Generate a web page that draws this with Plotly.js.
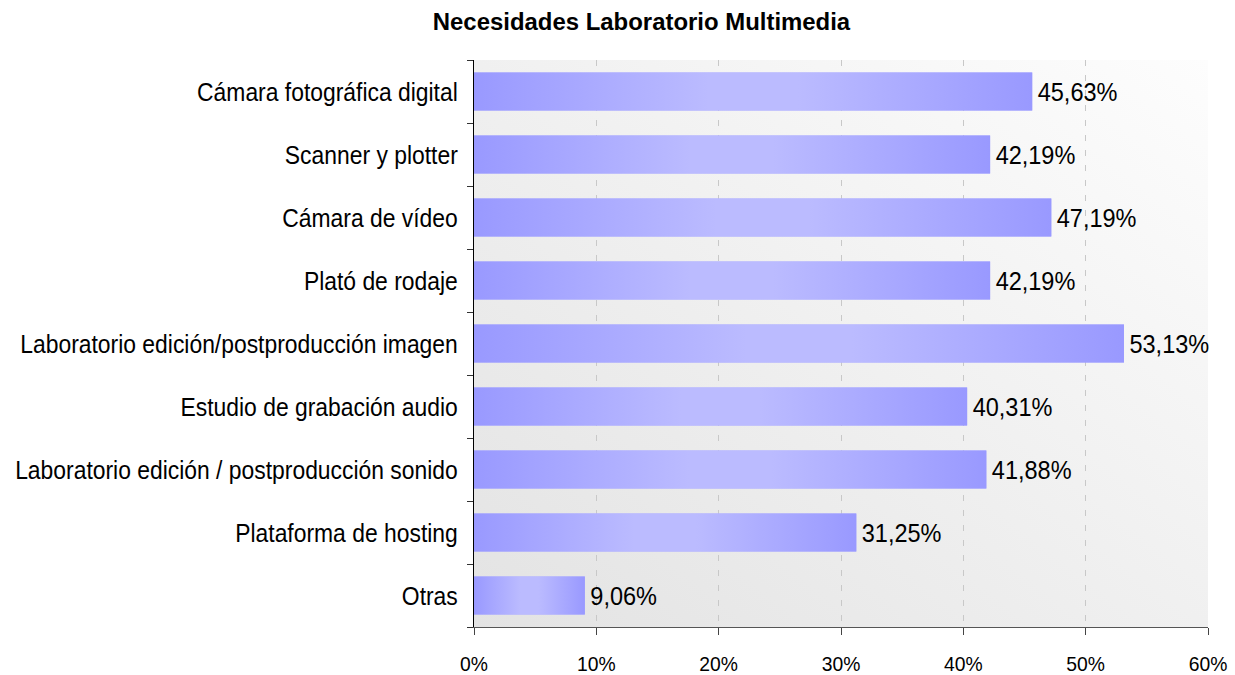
<!DOCTYPE html>
<html>
<head>
<meta charset="utf-8">
<script src="https://cdn.plot.ly/plotly-3.0.1.min.js"></script>
<style>html,body{margin:0;padding:0;background:#fff;}#chart{width:1235px;height:675px;}</style>
</head>
<body>
<div id="chart"></div>
<script>
const categories = [
  "Cámara fotográfica digital",
  "Scanner y plotter",
  "Cámara de vídeo",
  "Plató de rodaje",
  "Laboratorio edición/postproducción imagen",
  "Estudio de grabación audio",
  "Laboratorio edición / postproducción sonido",
  "Plataforma de hosting",
  "Otras"
];
const values = [45.63, 42.19, 47.19, 42.19, 53.13, 40.31, 41.88, 31.25, 9.06];
const xTickValues = [0, 10, 20, 30, 40, 50, 60];
const xTickLabels = ["0%", "10%", "20%", "30%", "40%", "50%", "60%"];

const FONT = "Liberation Sans, Arial, sans-serif";
const BAR_HALF = 0.3;
const positions = categories.map((c, i) => i);
const boundaries = categories.map((c, i) => i - 0.5).concat([categories.length - 0.5]);

const barTrace = {
  type: 'bar',
  orientation: 'h',
  x: values,
  y: positions,
  width: BAR_HALF * 2,
  marker: {color: '#aaaaff', line: {width: 0}},
  texttemplate: '%{x:.2f}%',
  textposition: 'outside',
  cliponaxis: false,
  textfont: {family: FONT, size: 25, color: '#000'},
  hoverinfo: 'skip',
  showlegend: false
};

const gradientTraces = values.map((v, i) => ({
  type: 'scatter',
  mode: 'lines',
  x: [0, v, v, 0, 0],
  y: [i - BAR_HALF, i - BAR_HALF, i + BAR_HALF, i + BAR_HALF, i - BAR_HALF],
  fill: 'toself',
  line: {width: 0, color: 'rgba(0,0,0,0)'},
  fillcolor: '#aaaaff',
  fillgradient: {
    type: 'horizontal',
    start: 0,
    stop: v,
    colorscale: [[0, '#9999ff'], [0.42, '#bbbbff'], [0.58, '#bbbbff'], [1, '#9999ff']]
  },
  hoverinfo: 'skip',
  showlegend: false
}));

const bgSvg = '<svg xmlns="http://www.w3.org/2000/svg" width="100" height="100" preserveAspectRatio="none">' +
  '<defs><linearGradient id="g" x1="0" y1="1" x2="1" y2="0">' +
  '<stop offset="0" stop-color="#e3e3e3"/><stop offset="1" stop-color="#fdfdfd"/>' +
  '</linearGradient></defs><rect width="100" height="100" fill="url(#g)"/></svg>';

const layout = {
  width: 1235,
  height: 675,
  margin: {l: 474, r: 27, t: 60, b: 48, pad: 0},
  paper_bgcolor: '#ffffff',
  plot_bgcolor: 'rgba(0,0,0,0)',
  separators: ',.',
  showlegend: false,
  title: {
    text: 'Necesidades Laboratorio Multimedia',
    font: {family: FONT, size: 23, weight: 'bold', color: '#000'},
    x: 641.5 / 1235, xanchor: 'center',
    y: 1 - 22 / 675, yanchor: 'middle'
  },
  images: [{
    source: 'data:image/svg+xml;charset=utf-8,' + encodeURIComponent(bgSvg),
    xref: 'x domain', yref: 'y domain',
    x: 0, y: 1, sizex: 1, sizey: 1,
    xanchor: 'left', yanchor: 'top',
    sizing: 'stretch', layer: 'below'
  }],
  xaxis: {
    range: [0, 60],
    tickmode: 'array',
    tickvals: xTickValues,
    ticktext: xTickLabels,
    showgrid: true,
    gridcolor: '#c8c8c8',
    griddash: '6px,9px',
    gridwidth: 1,
    zeroline: false,
    showline: true,
    linecolor: '#555555',
    linewidth: 1,
    ticks: 'outside',
    ticklen: 7,
    tickcolor: '#444444',
    ticklabelstandoff: 11,
    tickfont: {family: FONT, size: 21, color: '#000'},
    fixedrange: true
  },
  yaxis: {
    range: [categories.length - 0.5, -0.5],
    tickmode: 'array',
    tickvals: positions,
    ticktext: categories,
    ticks: '',
    showgrid: false,
    zeroline: false,
    showline: true,
    linecolor: '#000000',
    linewidth: 1,
    ticklabelstandoff: 10,
    tickfont: {family: FONT, size: 26, color: '#000'},
    minor: {
      tickmode: 'array',
      tickvals: boundaries,
      ticks: 'outside',
      ticklen: 6,
      tickcolor: '#333333',
      showgrid: false
    },
    fixedrange: true
  },
  bargap: 0.4
};

// Adjust glyph widths of texts (the reference uses a condensed face for labels).
function squeeze(selector, ratio, keep, extra) {
  document.querySelectorAll(selector).forEach(t => {
    try {
      const before = t.getBBox();
      const len = t.getComputedTextLength();
      if (!len) return;
      t.setAttribute('textLength', (len * ratio).toFixed(2));
      t.setAttribute('lengthAdjust', 'spacingAndGlyphs');
      const after = t.getBBox();
      let shift = extra || 0;
      if (keep === 'left') shift += before.x - after.x;
      else if (keep === 'right') shift += (before.x + before.width) - (after.x + after.width);
      if (Math.abs(shift) > 0.01) {
        const x0 = parseFloat(t.getAttribute('x') || '0');
        t.setAttribute('x', (x0 + shift).toFixed(2));
      }
    } catch (e) {}
  });
}

Plotly.newPlot('chart', [barTrace].concat(gradientTraces), layout, {displayModeBar: false, staticPlot: true})
  .then(() => {
    squeeze('.ytick text', 0.88, 'right', 0);
    squeeze('.bartext', 0.94, 'left', 2.5);
    squeeze('.xtick text', 0.92, 'center', 0);
    squeeze('.gtitle', 1.04, 'center', 0);
  });
</script>
</body>
</html>
